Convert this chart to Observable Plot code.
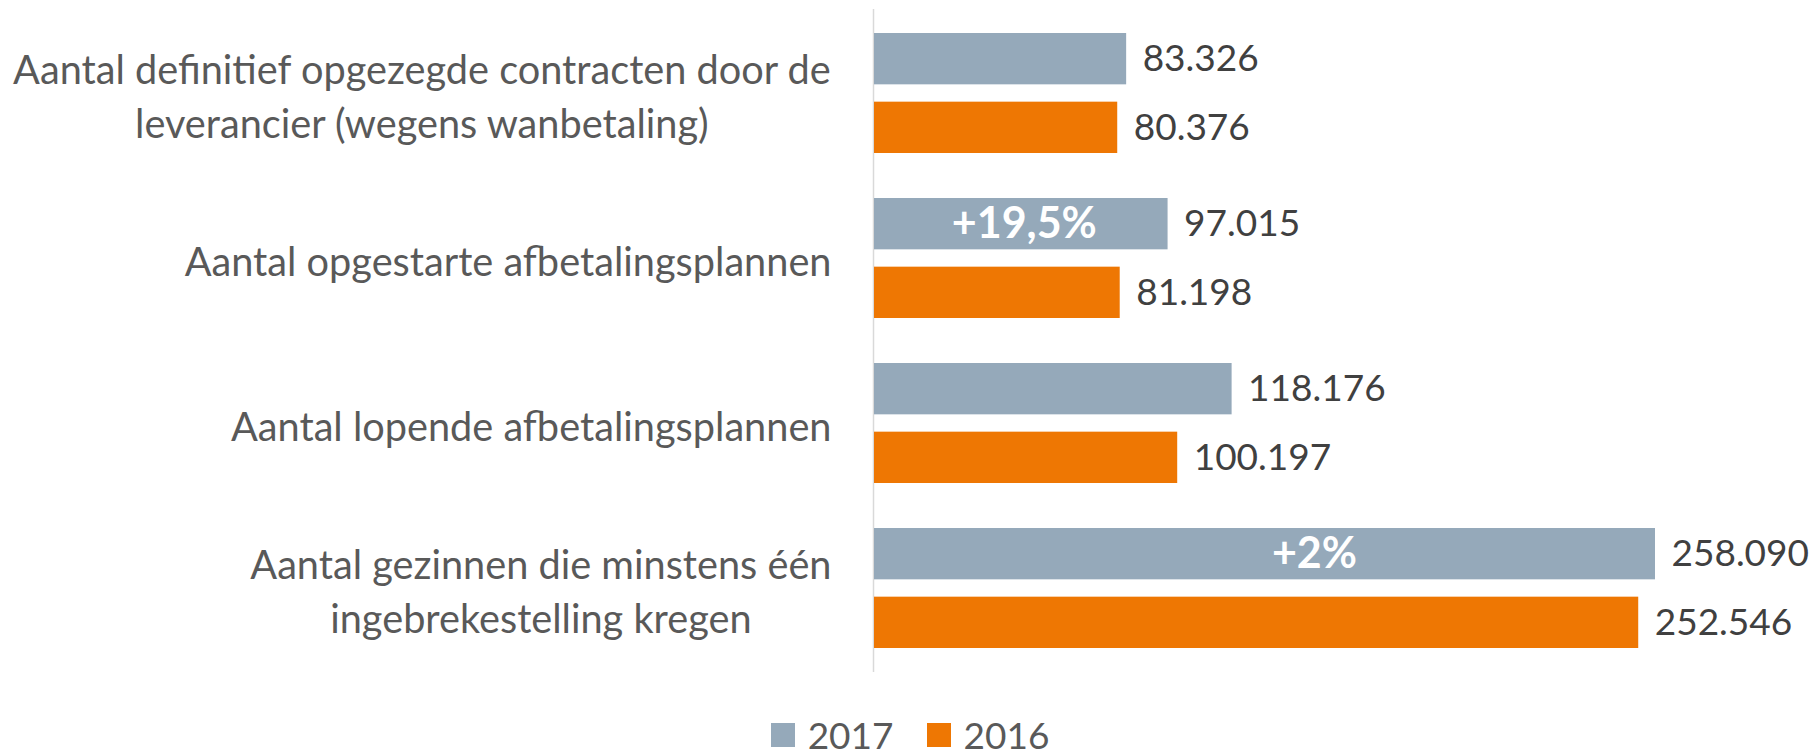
<!DOCTYPE html>
<html>
<head>
<meta charset="utf-8">
<script src="https://cdn.jsdelivr.net/npm/d3@7"></script>
<script src="https://cdn.jsdelivr.net/npm/@observablehq/plot@0.6"></script>
<style>
  html, body { margin: 0; padding: 0; background: #fff; }
  #chart { width: 1820px; }
  .legend { height: 69px; box-sizing: border-box; padding-top: 43px; display: flex; justify-content: center; align-items: flex-start; font-family: Lato, sans-serif; font-size: 37px; color: #595959; }
  .legend .item { display: flex; align-items: center; height: 24px; }
  .legend .sw { width: 24px; height: 24px; margin-right: 13px; }
  .legend .lbl { line-height: 24px; }
  .legend .item + .item { margin-left: 33px; }
</style>
</head>
<body>
<div id="chart"></div>
<script>
// ---- data ----
const categories = [
  "Aantal definitief opgezegde contracten door de leverancier (wegens wanbetaling)",
  "Aantal opgestarte afbetalingsplannen",
  "Aantal lopende afbetalingsplannen",
  "Aantal gezinnen die minstens één ingebrekestelling kregen"
];
const categoryLines = [
  "Aantal definitief opgezegde contracten door de\nleverancier (wegens wanbetaling)",
  "Aantal opgestarte afbetalingsplannen",
  "Aantal lopende afbetalingsplannen",
  "Aantal gezinnen die minstens één\ningebrekestelling kregen"
];
const years = ["2017", "2016"];
const values2017 = [83326, 97015, 118176, 258090];
const values2016 = [80376, 81198, 100197, 252546];
const annotationLabels = ["", "+19,5%", "", "+2%"];
const annotationX = [null, 49500, null, 145400];
const colors = ["#95A9BA", "#EE7703"];

// ---- build ----
const nl = d3.formatLocale({decimal: ",", thousands: ".", grouping: [3], currency: ["€", ""]});
const fmt = nl.format(",d");

const rows2017 = categories.map((c, i) => ({category: c, value: values2017[i]}));
const rows2016 = categories.map((c, i) => ({category: c, value: values2016[i]}));
const annots = categories.map((c, i) => ({category: c, label: annotationLabels[i], x: annotationX[i]})).filter(d => d.label);

const width = 1820, height = 680, mt = 9, mb = 8, ml = 874, mr = 165;
const pIn = 0.272, pOut = 0.136;
const step = (height - mt - mb) / (categories.length - pIn + 2 * pOut);
const bw = step * (1 - pIn);
const barH = 52;
const off = bw / 2 - barH / 2;

const labelFont = 39.7;
const ctx = document.createElement("canvas").getContext("2d");
ctx.font = `${labelFont}px Lato`;
const labelMarks = categories.map((c, i) => {
  const lines = categoryLines[i].split("\n");
  const w = d3.max(lines, l => ctx.measureText(l).width);
  return Plot.text([{category: c, text: categoryLines[i]}], {
    y: "category", text: "text", frameAnchor: "left", textAnchor: "middle",
    dx: -43 - w / 2, fontSize: labelFont, lineHeight: 1.36, fill: "#595959"
  });
});

const chart = Plot.plot({
  width, height,
  marginTop: mt, marginBottom: mb, marginLeft: ml, marginRight: mr,
  style: {fontFamily: "Lato, sans-serif", background: "white"},
  x: {domain: [0, d3.max(values2017.concat(values2016))], axis: null},
  y: {domain: categories, paddingInner: pIn, paddingOuter: pOut, axis: null},
  marks: [
    Plot.ruleX([0], {stroke: "#D9D9D9", strokeWidth: 1.5, dx: -1}),
    Plot.barX(rows2017, {x: "value", y: "category", fill: colors[0], insetBottom: bw - barH}),
    Plot.barX(rows2016, {x: "value", y: "category", fill: colors[1], insetTop: bw - barH}),
    Plot.text(rows2017, {x: "value", y: "category", text: d => fmt(d.value), textAnchor: "start", dx: 16, dy: -off, fontSize: 37, fill: "#404040"}),
    Plot.text(rows2016, {x: "value", y: "category", text: d => fmt(d.value), textAnchor: "start", dx: 16, dy: off, fontSize: 37, fill: "#404040"}),
    Plot.text(annots, {x: "x", y: "category", text: "label", dy: -off, fontSize: 43, fontWeight: "bold", fill: "white"}),
    ...labelMarks
  ]
});
document.getElementById("chart").appendChild(chart);

const legend = document.createElement("div");
legend.className = "legend";
years.forEach((y, i) => {
  const item = document.createElement("div");
  item.className = "item";
  const sw = document.createElement("span");
  sw.className = "sw";
  sw.style.background = colors[i];
  const t = document.createElement("span");
  t.className = "lbl";
  t.textContent = y;
  item.appendChild(sw);
  item.appendChild(t);
  legend.appendChild(item);
});
document.getElementById("chart").appendChild(legend);
</script>
</body>
</html>
